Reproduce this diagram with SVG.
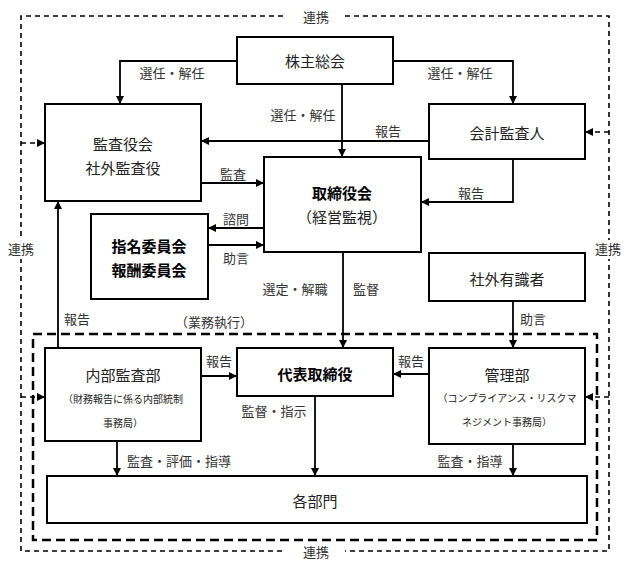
<svg xmlns="http://www.w3.org/2000/svg" width="629" height="568" viewBox="0 0 629 568">
<style>
.box{fill:#fff;stroke:#000;stroke-width:2}
.t{font-family:"Noto Sans CJK JP","Noto Sans",sans-serif;font-size:15px;fill:#222;text-anchor:middle;dominant-baseline:central}
.b{font-weight:bold;fill:#000}
.l{font-family:"Noto Sans CJK JP","Noto Sans",sans-serif;font-size:13px;fill:#333;text-anchor:middle;dominant-baseline:central}
.s{font-size:10px}
.ln{fill:none;stroke:#000;stroke-width:1.8}
.od{fill:none;stroke:#000;stroke-width:1.6;stroke-dasharray:5,4}
.id{fill:none;stroke:#000;stroke-width:2.5;stroke-dasharray:9,5}
</style>
<defs>
<marker id="a" viewBox="0 0 10 10" refX="10" refY="5" markerWidth="8" markerHeight="8" markerUnits="userSpaceOnUse" orient="auto"><path d="M0,0L10,5L0,10z" fill="#000"/></marker>
</defs>
<g id="frames">
<path class="od" d="M283,16H21V551H283M345,16H609V551H345"/>
<rect class="id" x="33" y="334" width="564" height="206"/>
<text class="l" x="316" y="16">連携</text>
<text class="l" x="316" y="551">連携</text>
<text class="l" x="21" y="248" style="paint-order:stroke;stroke:#fff;stroke-width:6">連携</text>
<text class="l" x="608" y="248" style="paint-order:stroke;stroke:#fff;stroke-width:6">連携</text>
<text class="l" x="214" y="321">（業務執行）</text>
</g>
<g id="connectors">
<path class="ln" d="M237,61H120V104" marker-end="url(#a)"/>
<path class="ln" d="M393,61H513V104" marker-end="url(#a)"/>
<path class="ln" d="M342,84V157" marker-end="url(#a)"/>
<path class="ln" d="M429,141H201" marker-end="url(#a)"/>
<path class="ln" d="M201,183H264" marker-end="url(#a)"/>
<path class="ln" d="M513,159V202H421" marker-end="url(#a)"/>
<path class="ln" d="M264,228H208" marker-end="url(#a)"/>
<path class="ln" d="M208,245H264" marker-end="url(#a)"/>
<path class="ln" d="M58,348V201" marker-end="url(#a)"/>
<path class="ln" d="M343,252V348" marker-end="url(#a)"/>
<path class="ln" d="M513,301V348" marker-end="url(#a)"/>
<path class="ln" d="M201,376H237" marker-end="url(#a)"/>
<path class="ln" d="M429,374H393" marker-end="url(#a)"/>
<path class="ln" d="M117,441V476" marker-end="url(#a)"/>
<path class="ln" d="M315,396V476" marker-end="url(#a)"/>
<path class="ln" d="M513,444V476" marker-end="url(#a)"/>
<path class="od" d="M21,143H45" marker-end="url(#a)"/>
<path class="od" d="M21,397H45" marker-end="url(#a)"/>
<path class="od" d="M609,132H585" marker-end="url(#a)"/>
<path class="od" d="M609,397H585" marker-end="url(#a)"/>
<text class="l" x="172" y="72">選任・解任</text>
<text class="l" x="460" y="72">選任・解任</text>
<text class="l" x="303" y="114">選任・解任</text>
<text class="l" x="388" y="130">報告</text>
<text class="l" x="233" y="173">監査</text>
<text class="l" x="471" y="192">報告</text>
<text class="l" x="236" y="218">諮問</text>
<text class="l" x="236" y="257">助言</text>
<text class="l" x="77" y="318">報告</text>
<text class="l" x="295" y="288">選定・解職</text>
<text class="l" x="366" y="288">監督</text>
<text class="l" x="533" y="318">助言</text>
<text class="l" x="219" y="360">報告</text>
<text class="l" x="411" y="360">報告</text>
<text class="l" x="179" y="460">監査・評価・指導</text>
<text class="l" x="274" y="410">監督・指示</text>
<text class="l" x="470" y="460">監査・指導</text>
</g>
<g id="kabunushi"><rect class="box" x="237" y="37" width="156" height="47"/><text class="t" x="315" y="60">株主総会</text></g>
<g id="kansayakukai"><rect class="box" x="45" y="104" width="156" height="97"/><text class="t" x="123" y="143">監査役会</text><text class="t" x="123" y="167">社外監査役</text></g>
<g id="kaikei"><rect class="box" x="429" y="104" width="156" height="55"/><text class="t" x="507" y="132">会計監査人</text></g>
<g id="torishimariyakukai"><rect class="box" x="264" y="157" width="157" height="95"/><text class="t b" x="342" y="192">取締役会</text><text class="t" x="342" y="216">（経営監視）</text></g>
<g id="iinkai"><rect class="box" x="91" y="214" width="117" height="85"/><text class="t b" x="149" y="245">指名委員会</text><text class="t b" x="149" y="269">報酬委員会</text></g>
<g id="yushikisha"><rect class="box" x="429" y="253" width="156" height="48"/><text class="t" x="507" y="278">社外有識者</text></g>
<g id="naibu"><rect class="box" x="45" y="348" width="156" height="93"/><text class="t" x="123" y="374">内部監査部</text><text class="t s" x="123" y="398">（財務報告に係る内部統制</text><text class="t s" x="123" y="422">事務局）</text></g>
<g id="daihyo"><rect class="box" x="237" y="348" width="156" height="48"/><text class="t b" x="315" y="373">代表取締役</text></g>
<g id="kanri"><rect class="box" x="429" y="348" width="156" height="96"/><text class="t" x="507" y="374">管理部</text><text class="t s" x="507" y="397">（コンプライアンス・リスクマ</text><text class="t s" x="507" y="421">ネジメント事務局）</text></g>
<g id="kakubumon"><rect class="box" x="47" y="476" width="540" height="47"/><text class="t" x="315" y="500">各部門</text></g>
</svg>
